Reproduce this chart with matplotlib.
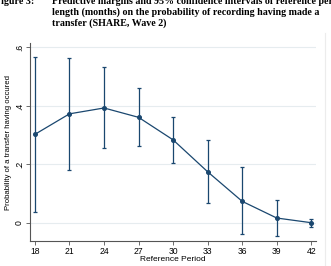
import numpy as np
import matplotlib.pyplot as plt
from matplotlib.lines import Line2D

# valores
periods = [18, 21, 24, 27, 30, 33, 36, 39, 42]
margin = [0.303, 0.373, 0.393, 0.361, 0.284, 0.175, 0.074, 0.017, 0.001]
ci_low = [0.038, 0.181, 0.255, 0.264, 0.206, 0.067, -0.038, -0.044, -0.015]
ci_high = [0.567, 0.565, 0.532, 0.460, 0.361, 0.284, 0.190, 0.079, 0.013]

yticks = [0, 0.2, 0.4, 0.6]
ytick_labels = ['0', '.2', '.4', '.6']

W, H = 331, 266
navy = '#1a476f'

fig = plt.figure(figsize=(W / 100, H / 100), dpi=100)
ax = fig.add_axes([30 / W, (H - 241) / H, (316 - 30) / W, (241 - 43) / H])

margin = np.array(margin)
yerr = [margin - np.array(ci_low), np.array(ci_high) - margin]
ax.errorbar(periods, margin, yerr=yerr, color=navy, lw=0.9, elinewidth=0.9,
            capsize=1.6, capthick=0.9, marker='o', markersize=2.6, zorder=3)

ax.set_xlim(17.57, 42.41)
ax.set_ylim(-0.0615, 0.615)
ax.set_xticks(periods)
ax.set_yticks(yticks)
ax.set_yticklabels(ytick_labels, rotation=90, va='center')

for sp in ['top', 'right']:
    ax.spines[sp].set_visible(False)
for sp in ['left', 'bottom']:
    ax.spines[sp].set_color('#555555')
    ax.spines[sp].set_linewidth(0.8)

ax.grid(axis='y', color='#e6ecef', lw=0.8, zorder=0)
ax.tick_params(axis='both', labelsize=6.2, length=3, width=0.6, color='#555555',
               pad=1.5, labelfontfamily='Liberation Sans')

ax.set_xlabel('Reference Period', fontsize=6, family='Liberation Sans', labelpad=0)
ax.set_ylabel('Probability of a transfer having occured', fontsize=5.6,
              family='Liberation Sans', labelpad=2)

# linha fina da borda a direita
fig.add_artist(Line2D([325 / W, 325 / W], [0, 1 - 33 / H], transform=fig.transFigure,
                      color='#ececec', lw=0.8))

# titulo (cortado no topo, como no original)
tkw = dict(family='Liberation Serif', weight='bold', fontsize=7.2, va='baseline')
fig.text(-5 / W, 1 - 3.5 / H, 'Figure 3:', **tkw)
fig.text(52 / W, 1 - 3.5 / H,
         'Predictive margins and 95% confidence intervals of reference period', **tkw)
fig.text(52 / W, 1 - 14.5 / H,
         'length (months) on the probability of recording having made a', **tkw)
fig.text(52 / W, 1 - 25.5 / H, 'transfer (SHARE, Wave 2)', **tkw)

fig.savefig('out.png', dpi=100)
